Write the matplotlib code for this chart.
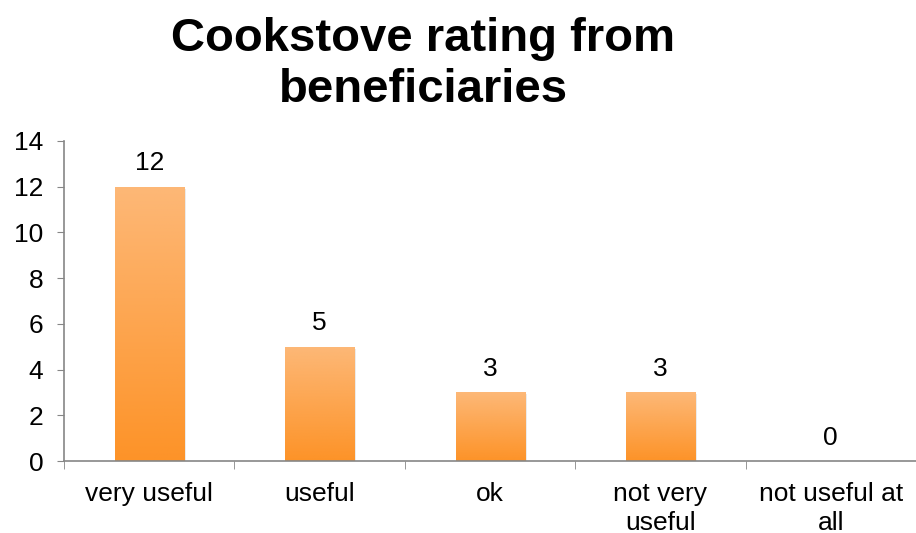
import numpy as np
import matplotlib.pyplot as plt
from matplotlib.colors import LinearSegmentedColormap

categories = ['very useful', 'useful', 'ok', 'not very\nuseful', 'not useful at\nall']
counts = [12, 5, 3, 3, 0]

plt.rcParams['font.family'] = ['Liberation Sans', 'DejaVu Sans']

fig = plt.figure(figsize=(9.16, 5.33), dpi=100)
ax = fig.add_axes([0.0699, 0.135, 0.9301, 0.6005])

x = np.arange(len(categories))
bars = ax.bar(x, counts, width=0.405, color='none', edgecolor='none', zorder=2)

cmap = LinearSegmentedColormap.from_list('orange', ['#fd9328', '#fdb877'])
grad = np.linspace(0, 1, 256).reshape(-1, 1)
for b in bars:
    h = b.get_height()
    if h <= 0:
        continue
    x0 = b.get_x()
    w = b.get_width()
    # soft shadow
    ax.bar(x0 + w / 2 + 0.012, h, width=w, bottom=-0.08, color='#000000',
           alpha=0.08, zorder=1)
    im = ax.imshow(grad, cmap=cmap, aspect='auto', origin='lower',
                   extent=[x0, x0 + w, 0, h], zorder=2)
    im.set_clip_path(b)

for xi, v in zip(x, counts):
    ax.text(xi, v + 0.5, str(v), ha='center', va='bottom', fontsize=19)

ax.set_xlim(-0.5, len(categories) - 0.5)
ax.set_ylim(0, 14)
ax.set_yticks(range(0, 15, 2))
ax.tick_params(axis='y', labelsize=19, length=5, color='#868686', pad=10)
ax.set_xticks(x)
ax.set_xticklabels(categories, fontsize=19, linespacing=1.25)
ax.tick_params(axis='x', length=0, pad=15)
ax.set_xticks(np.arange(-0.5, len(categories) - 0.4, 1), minor=True)
ax.tick_params(axis='x', which='minor', length=6, color='#868686')

for s in ['top', 'right']:
    ax.spines[s].set_visible(False)
for s in ['left', 'bottom']:
    ax.spines[s].set_color('#868686')
    ax.spines[s].set_linewidth(1.2)

fig.text(0.462, 0.968, 'Cookstove rating from\nbeneficiaries', ha='center', va='top',
         fontsize=34, fontweight='bold', linespacing=1.2)

fig.savefig('out.png', dpi=100)
